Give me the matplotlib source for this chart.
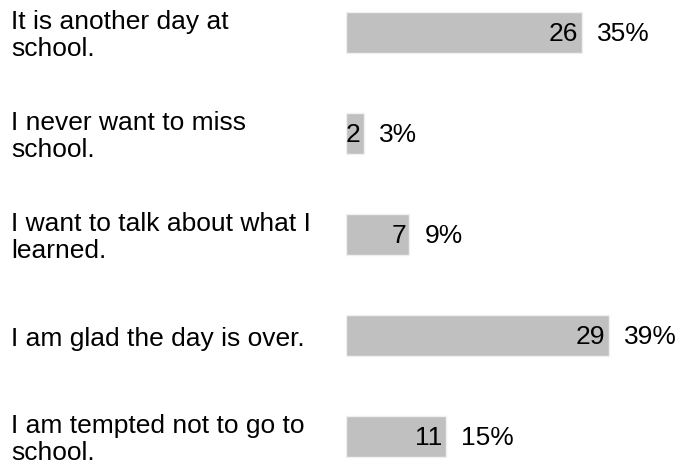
import matplotlib.pyplot as plt
from matplotlib.transforms import blended_transform_factory

# data
labels = [
    "It is another day at\nschool.",
    "I never want to miss\nschool.",
    "I want to talk about what I\nlearned.",
    "I am glad the day is over.",
    "I am tempted not to go to\nschool.",
]
counts = [26, 2, 7, 29, 11]
percents = ["35%", "3%", "9%", "39%", "15%"]

plt.rcParams['font.family'] = ['Liberation Sans', 'DejaVu Sans']

W, H = 683, 466
fig = plt.figure(figsize=(W / 100, H / 100), dpi=100)
ax = fig.add_axes([346 / W, 0, 1 - 346 / W, 1])

px_per_unit = 9.07
row_px = 101
first_px = 32.5

ax.set_xlim(0, (W - 346) / px_per_unit)
ax.set_ylim((H - first_px) / row_px, -first_px / row_px)
ax.axis('off')

ypos = list(range(len(counts)))
ax.barh(ypos, counts, height=0.41, color='#c0c0c0', edgecolor='#f0f0f0', linewidth=1)

fs = 19
trans = blended_transform_factory(fig.transFigure, ax.transData)
for y, lab, c, p in zip(ypos, labels, counts, percents):
    ax.text(11 / W, y + 0.03, lab, transform=trans, ha='left', va='center',
            fontsize=fs, linespacing=1.12, color='black')
    ax.annotate(str(c), (c, y), xytext=(-2.5, -1), textcoords='offset points',
                ha='right', va='center', fontsize=fs, color='black')
    ax.annotate(p, (c, y), xytext=(11, -1), textcoords='offset points',
                ha='left', va='center', fontsize=fs, color='black')

fig.savefig('out.png', dpi=100)
